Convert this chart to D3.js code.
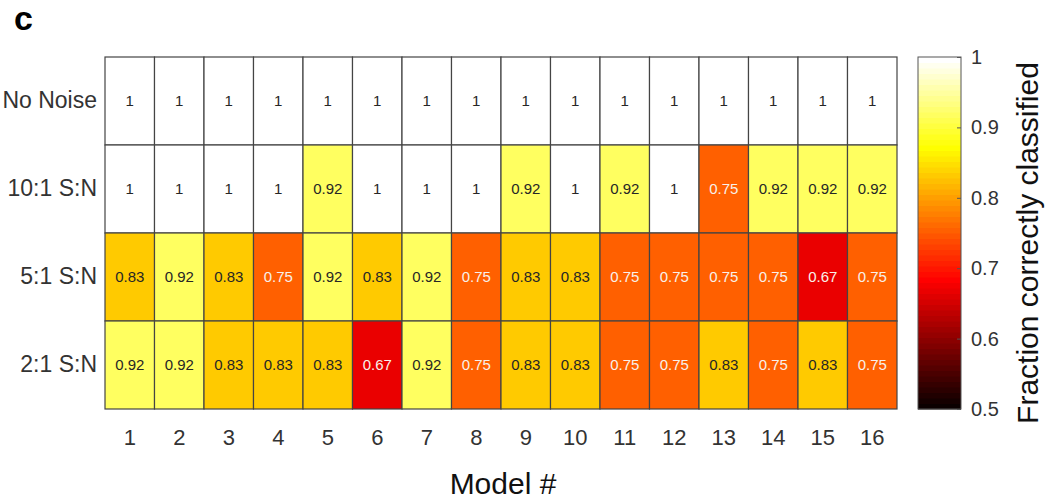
<!DOCTYPE html>
<html>
<head>
<meta charset="utf-8">
<script src="https://cdn.jsdelivr.net/npm/d3@7"></script>
<style>
  body { margin:0; background:#fff; }
  svg text { font-family: "Liberation Sans", Arial, sans-serif; }
</style>
</head>
<body>
<div id="canvas"></div>
<script>
// rows of the heatmap, top to bottom
var rowNames = ['No Noise', '10:1 S:N', '5:1 S:N', '2:1 S:N'];
var models = d3.range(1, 17);

var noNoise = [1,1,1,1,1,1,1,1,1,1,1,1,1,1,1,1];
var snr10 = [1,1,1,1,0.92,1,1,1,0.92,1,0.92,1,0.75,0.92,0.92,0.92];
var snr5  = [0.83,0.92,0.83,0.75,0.92,0.83,0.92,0.75,0.83,0.83,0.75,0.75,0.75,0.75,0.67,0.75];
var snr2  = [0.92,0.92,0.83,0.83,0.83,0.67,0.92,0.75,0.83,0.83,0.75,0.75,0.83,0.75,0.83,0.75];

var colorTicks = [0.5, 0.6, 0.7, 0.8, 0.9, 1];

var W = 1052, H = 500;
var m = {t:57, l:105, r:155, b:90};

var svg = d3.select('#canvas').append('svg')
    .attr('width', W).attr('height', H);

// MATLAB style "hot" colormap, 64 entries
function hot(i, n) {
  var n1 = Math.floor(3/8*n), n2 = n1, n3 = n - n1 - n2;
  var r = Math.min(1, (i+1)/n1);
  var g = i < n1 ? 0 : Math.min(1, (i+1-n1)/n2);
  var b = i < n1+n2 ? 0 : (i+1-n1-n2)/n3;
  return d3.rgb(r*255, g*255, b*255).toString();
}
var nColors = 64;
var cmap = d3.range(nColors).map(function(i){ return hot(i, nColors); });
var color = d3.scaleQuantize().domain([0.5, 1]).range(cmap);

var rows = [];
[noNoise, snr10, snr5, snr2].forEach(function(vals, r){
  vals.forEach(function(v, c){
    rows.push({row: rowNames[r], model: models[c], value: v});
  });
});

var x = d3.scaleBand().domain(models).range([m.l, 897]);
var y = d3.scaleBand().domain(rowNames).range([m.t, 409]);

var cells = svg.append('g').selectAll('g').data(rows).enter().append('g')
    .attr('transform', function(d){ return 'translate(' + x(d.model) + ',' + y(d.row) + ')'; });

cells.append('rect')
    .attr('width', x.bandwidth())
    .attr('height', y.bandwidth())
    .attr('fill', function(d){ return color(d.value); })
    .attr('stroke', '#444')
    .attr('stroke-width', 1.2);

cells.append('text')
    .attr('x', x.bandwidth()/2)
    .attr('y', y.bandwidth()/2)
    .attr('dy', '0.35em')
    .attr('text-anchor', 'middle')
    .style('font-size', '15px')
    .attr('fill', function(d){ return d.value < 0.8 ? '#f8f0ea' : '#262626'; })
    .text(function(d){ return d.value === 1 ? '1' : d.value.toFixed(2); });

// axes
var axisX = d3.axisBottom(x).tickSize(0).tickPadding(20);
var gx = svg.append('g').attr('transform', 'translate(0,409)').call(axisX);
gx.select('.domain').remove();
gx.selectAll('text').style('font-size', '22px').attr('fill', '#333')
    .style('font-family', '"Liberation Sans", Arial, sans-serif');

var axisY = d3.axisLeft(y).tickSize(0).tickPadding(8);
var gy = svg.append('g').attr('transform', 'translate(' + m.l + ',0)').call(axisY);
gy.select('.domain').remove();
gy.selectAll('text').style('font-size', '23px').attr('fill', '#333')
    .style('font-family', '"Liberation Sans", Arial, sans-serif');

svg.append('text')
    .attr('x', 503).attr('y', 494)
    .attr('text-anchor', 'middle')
    .style('font-size', '30px').attr('fill', '#111')
    .text('Model #');

svg.append('text')
    .attr('x', 14).attr('y', 30)
    .style('font-size', '34px').style('font-weight', 'bold')
    .text('c');

// colorbar
var cbX = 918, cbW = 43;
var cy = d3.scaleLinear().domain([0.5, 1]).range([409, 57]);
var step = 0.5 / nColors;
svg.append('g').selectAll('rect').data(cmap).enter().append('rect')
    .attr('x', cbX)
    .attr('y', function(d, i){ return cy(0.5 + (i+1)*step); })
    .attr('width', cbW)
    .attr('height', function(d, i){ return cy(0.5 + i*step) - cy(0.5 + (i+1)*step) + 0.5; })
    .attr('fill', function(d){ return d; });
svg.append('rect')
    .attr('x', cbX).attr('y', 57).attr('width', cbW).attr('height', 352)
    .attr('fill', 'none').attr('stroke', '#555').attr('stroke-width', 1);

var axisC = d3.axisRight(cy).tickValues(colorTicks).tickSize(-4).tickPadding(10)
    .tickFormat(function(d){ return d === 1 ? '1' : d3.format('.1f')(d); });
var gc = svg.append('g').attr('transform', 'translate(' + (cbX + cbW) + ',0)').call(axisC);
gc.select('.domain').remove();
gc.selectAll('line').attr('stroke', '#555');
gc.selectAll('text').style('font-size', '20px').attr('fill', '#333')
    .style('font-family', '"Liberation Sans", Arial, sans-serif');

svg.append('text')
    .attr('transform', 'translate(1038,243) rotate(-90)')
    .attr('text-anchor', 'middle')
    .style('font-size', '30px').attr('fill', '#111')
    .text('Fraction correctly classified');
</script>
</body>
</html>
